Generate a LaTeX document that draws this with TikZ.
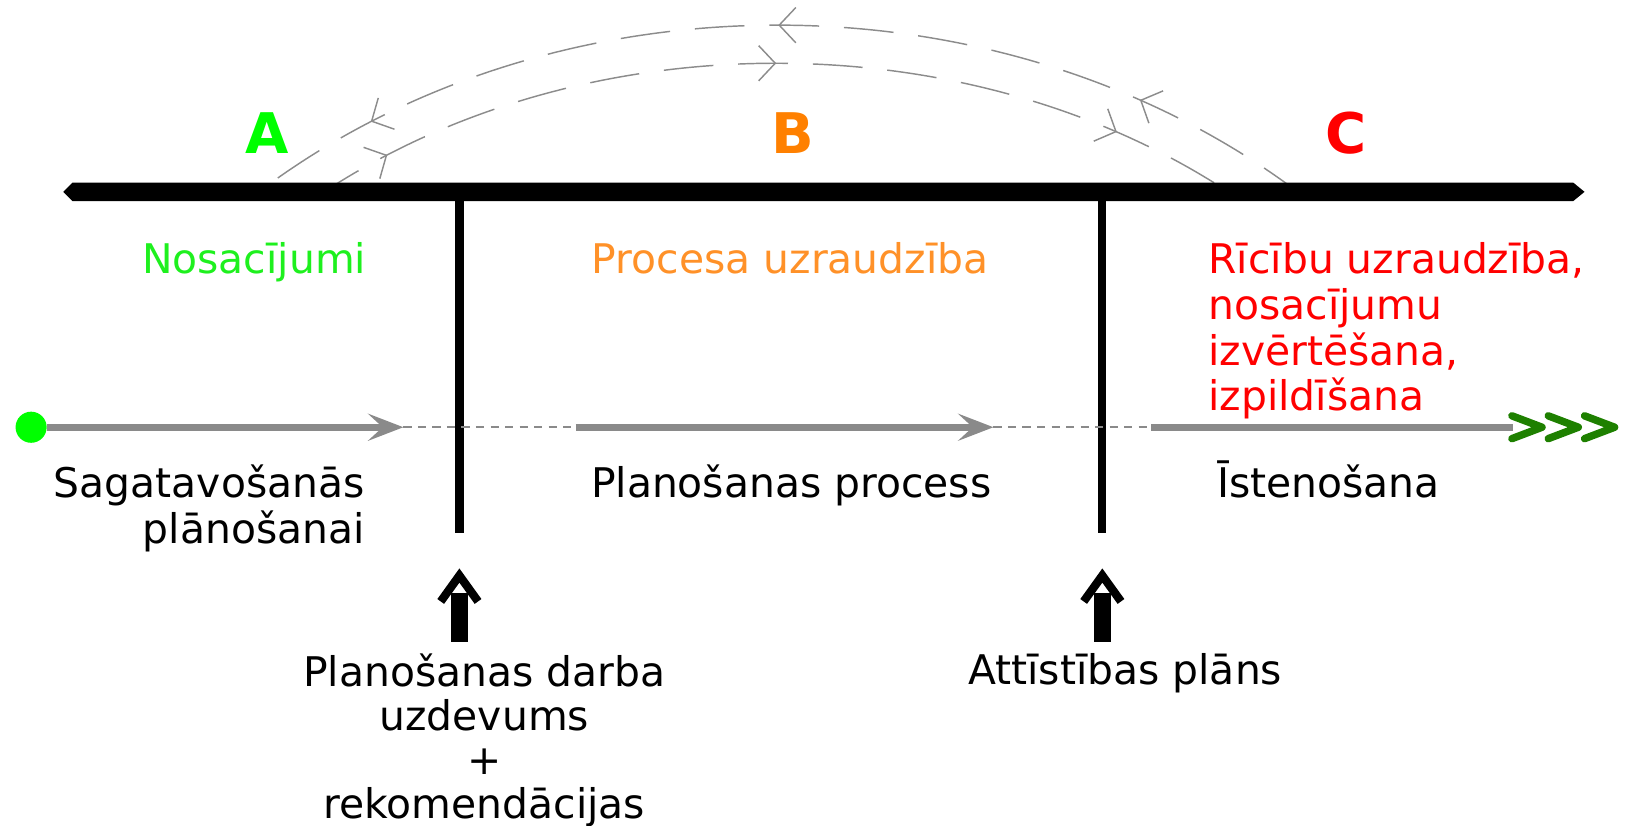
\documentclass[tikz,border=0pt]{standalone}
\usepackage{fontspec}
\setmainfont{DejaVu Sans}
\usetikzlibrary{arrows.meta,decorations.markings}
\definecolor{lgreen}{RGB}{0,255,0}
\definecolor{txtgreen}{RGB}{30,240,30}
\definecolor{orng}{RGB}{255,128,0}
\definecolor{lorng}{RGB}{255,145,40}
\definecolor{rd}{RGB}{255,0,0}
\definecolor{grayln}{RGB}{138,138,138}
\definecolor{arcgray}{RGB}{140,140,140}
\definecolor{dgreen}{RGB}{30,128,0}
\tikzset{
  txt/.style={font=\fontsize{19.7pt}{22pt}\selectfont, inner sep=0pt, anchor=base},
  bigletter/.style={font=\fontsize{27pt}{30pt}\selectfont\bfseries, inner sep=0pt, anchor=base},
  vline/.style={line width=4pt},
  upshaft/.style={line width=8pt},
  uphead/.style={line width=4pt, line join=miter},
  grayarrow/.style={draw=grayln, line width=3.4pt, -{Stealth[length=17pt,width=13pt,inset=7pt]}},
  graysolid/.style={draw=grayln, line width=3.4pt},
  graydash/.style={draw=grayln, line width=1pt, dash pattern=on 4pt off 3pt},
  chev/.style={draw=dgreen, line width=3.6pt, line join=round, line cap=round},
  arcline/.style={draw=arcgray, line width=0.7pt, dash pattern=on 24pt off 12pt},
  arctip/.style={arcgray, solid},
}
\newcommand{\arcbarb}{\arrow[arctip]{Straight Barb[length=8pt,width=17pt]}}
\begin{document}
\begin{tikzpicture}[x=0.5pt,y=-0.5pt]
\useasboundingbox (0,0) rectangle (1568,796);

% arcs
\coordinate (oR) at (1258,190);
\coordinate (oL) at (243,190);
\coordinate (iL) at (305,190);
\coordinate (iR) at (1192,190);
\draw[arcline, postaction={decorate, decoration={markings,
   mark=at position 0.17 with {\arcbarb},
   mark=at position 0.5 with {\arcbarb},
   mark=at position 0.875 with {\arcbarb}}}]
  (oR) .. controls (970,-31) and (530,-31) .. (oL);
\draw[arcline, postaction={decorate, decoration={markings,
   mark=at position 0.085 with {\arcbarb},
   mark=at position 0.5 with {\arcbarb},
   mark=at position 0.86 with {\arcbarb}}}]
  (iL) .. controls (560,18) and (937,18) .. (iR);

% main bar
\coordinate (barL) at (61,185);
\coordinate (barR) at (1528,185);
\fill (barL) -- (70,176) -- (1517,176) -- (barR) -- (1517,194) -- (70,194) -- cycle;

% vertical lines
\coordinate (v1t) at (443,185);
\coordinate (v1b) at (443,514);
\coordinate (v2t) at (1063,185);
\coordinate (v2b) at (1063,514);
\draw[vline] (v1t) -- (v1b);
\draw[vline] (v2t) -- (v2b);

% up arrows
\coordinate (u1b) at (443,619);
\coordinate (u1t) at (443,572);
\coordinate (u1a) at (443,555);
\draw[upshaft] (u1b) -- (u1t);
\draw[uphead] (425,580) -- (u1a) -- (461,580);
\coordinate (u2b) at (1063,619);
\coordinate (u2t) at (1063,572);
\coordinate (u2a) at (1063,555);
\draw[upshaft] (u2b) -- (u2t);
\draw[uphead] (1045,580) -- (u2a) -- (1081,580);

% letters
\node[bigletter, text=lgreen] (A) at (258,148) {A};
\node[bigletter, text=orng] (B) at (765,148) {B};
\node[bigletter, text=rd] (C) at (1298,148) {C};

% top labels
\node[txt, text=txtgreen] (nos) at (245,264) {Nosacījumi};
\node[txt, text=lorng] (proc) at (762,264) {Procesa uzraudzība};
\node[txt, text=rd, anchor=base west] (ric1) at (1165,264) {Rīcību uzraudzība,};
\node[txt, text=rd, anchor=base west] (ric2) at (1165,308) {nosacījumu};
\node[txt, text=rd, anchor=base west] (ric3) at (1165,352) {izvērtēšana,};
\node[txt, text=rd, anchor=base west] (ric4) at (1165,396) {izpildīšana};

% timeline
\node[circle, fill=lgreen, minimum size=15pt, inner sep=0pt] (dot) at (30,412) {};
\coordinate (a1) at (389,412);
\coordinate (b0) at (555,412);
\coordinate (b1) at (958,412);
\coordinate (c0) at (1110,412);
\coordinate (c1) at (1459,412);
\draw[graydash] (a1) -- (b0);
\draw[graydash] (b1) -- (c0);
\draw[grayarrow] (dot.east) -- (a1);
\draw[grayarrow] (b0) -- (b1);
\draw[graysolid] (c0) -- (c1);
\draw[chev] (1458,401) -- (1487,412) -- (1458,423);
\draw[chev] (1493,401) -- (1522,412) -- (1493,423);
\draw[chev] (1528,401) -- (1557,412) -- (1528,423);

% labels under timeline
\node[txt, anchor=base east] (sag1) at (352,480) {Sagatavošanās};
\node[txt, anchor=base east] (sag2) at (352,524) {plānošanai};
\node[txt] (plp) at (763,480) {Planošanas process};
\node[txt] (ist) at (1281,480) {Īstenošana};

% bottom labels
\node[txt] (pd1) at (467,662) {Planošanas darba};
\node[txt] (pd2) at (467,704) {uzdevums};
\node[txt] (pd3) at (467,747) {+};
\node[txt] (pd4) at (467,789) {rekomendācijas};
\node[txt] (att) at (1085,660) {Attīstības plāns};
\end{tikzpicture}
\end{document}
